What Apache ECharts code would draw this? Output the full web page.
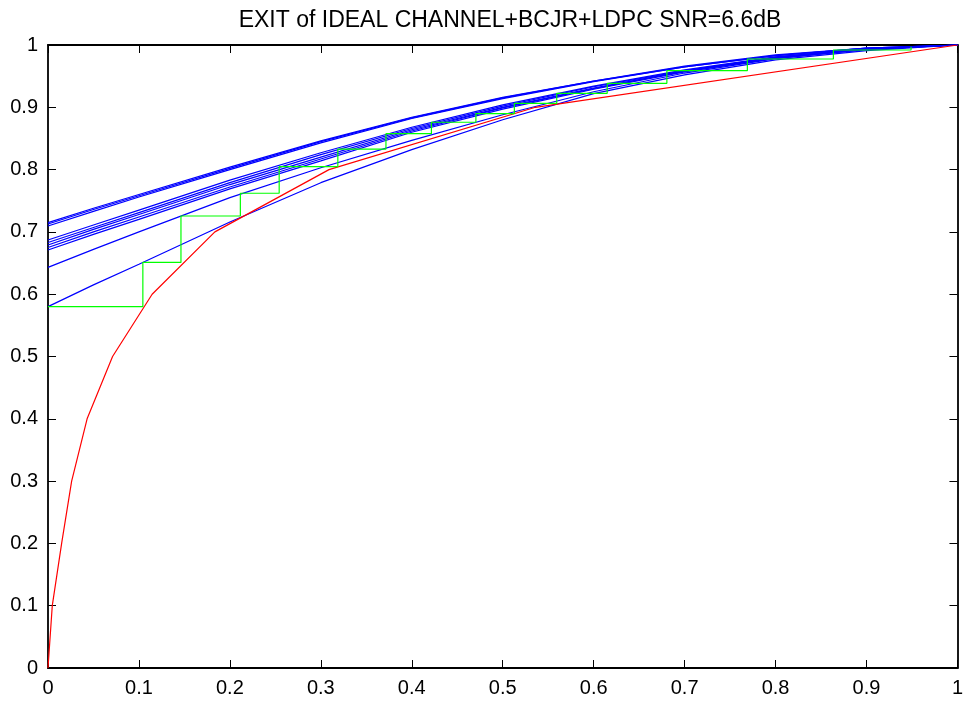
<!DOCTYPE html>
<html>
<head>
<meta charset="utf-8">
<script src="https://cdn.jsdelivr.net/npm/echarts@6/dist/echarts.min.js"></script>
<style>
html,body{margin:0;padding:0;background:#fff;}
#chart{width:966px;height:702px;}
</style>
</head>
<body>
<div id="chart"></div>
<script>
var titleText = 'EXIT of IDEAL CHANNEL+BCJR+LDPC SNR=6.6dB';
var axisTicks = [0, 0.1, 0.2, 0.3, 0.4, 0.5, 0.6, 0.7, 0.8, 0.9, 1];

// Blue: variable-node / BCJR curves, sampled at these x values
var blueX = [0, 0.05, 0.1, 0.2, 0.3, 0.4, 0.5, 0.6, 0.7, 0.8, 0.9, 1];
var blue1 = [0.580, 0.615, 0.648, 0.716, 0.779, 0.832, 0.880, 0.922, 0.952, 0.976, 0.991, 1];
var blue2 = [0.643, 0.672, 0.700, 0.755, 0.803, 0.847, 0.888, 0.925, 0.955, 0.978, 0.993, 1];
var blue3 = [0.671, 0.696, 0.720, 0.769, 0.814, 0.860, 0.897, 0.929, 0.957, 0.979, 0.993, 1];
var blue4 = [0.675, 0.700, 0.724, 0.772, 0.817, 0.862, 0.899, 0.930, 0.958, 0.979, 0.993, 1];
var blue5 = [0.679, 0.704, 0.728, 0.776, 0.820, 0.864, 0.900, 0.931, 0.958, 0.980, 0.994, 1];
var blue6 = [0.683, 0.707, 0.731, 0.779, 0.824, 0.866, 0.902, 0.933, 0.959, 0.980, 0.994, 1];
var blue7 = [0.687, 0.711, 0.735, 0.783, 0.827, 0.868, 0.904, 0.934, 0.960, 0.981, 0.994, 1];
var blue8 = [0.7095, 0.733, 0.756, 0.800, 0.843, 0.882, 0.914, 0.941, 0.965, 0.983, 0.995, 1];
var blue9 = [0.7127, 0.736, 0.758, 0.802, 0.845, 0.883, 0.915, 0.942, 0.965, 0.983, 0.995, 1];
var blue10 = [0.7148, 0.738, 0.760, 0.804, 0.846, 0.884, 0.916, 0.942, 0.966, 0.984, 0.995, 1];
var blueCurves = [blue1, blue2, blue3, blue4, blue5, blue6, blue7, blue8, blue9, blue10];

// Red: check-node curve
var redX = [0, 0.0047, 0.015, 0.026, 0.043, 0.071, 0.1145, 0.1835, 0.309, 0.536, 1];
var redY = [0, 0.1, 0.2, 0.3, 0.4, 0.5, 0.6, 0.7, 0.8, 0.9, 1];

// Green: decoding trajectory (staircase corners)
var greenX = [0, 0.1043, 0.1043, 0.1462, 0.1462, 0.2115, 0.2115, 0.2542, 0.2542, 0.3187, 0.3187, 0.3716, 0.3716, 0.4216, 0.4216, 0.4705, 0.4705, 0.5128, 0.5128, 0.5594, 0.5594, 0.6149, 0.6149, 0.6805, 0.6805, 0.769, 0.769, 0.8636, 0.8636, 0.949, 0.949];
var greenY = [0.58, 0.58, 0.651, 0.651, 0.7255, 0.7255, 0.762, 0.762, 0.8047, 0.8047, 0.833, 0.833, 0.8577, 0.8577, 0.876, 0.876, 0.890, 0.890, 0.9064, 0.9064, 0.9224, 0.9224, 0.9385, 0.9385, 0.9588, 0.9588, 0.9775, 0.9775, 0.992, 0.992, 0.997];

function pairs(xs, ys) {
  var out = [];
  for (var i = 0; i < xs.length; i++) out.push([xs[i], ys[i]]);
  return out;
}

var series = [];
blueCurves.forEach(function (c) {
  series.push({
    type: 'line', data: pairs(blueX, c), showSymbol: false,
    lineStyle: { color: '#0000ff', width: 1.2 }, silent: true
  });
});
series.push({
  type: 'line', data: pairs(redX, redY), showSymbol: false,
  lineStyle: { color: '#ff0000', width: 1.2 }, silent: true
});
series.push({
  type: 'line', data: pairs(greenX, greenY), showSymbol: false,
  lineStyle: { color: '#00ff00', width: 1.2 }, silent: true
});

var font = 'Liberation Sans, Arial, sans-serif';
function axisCommon(show) {
  return {
    type: 'value', min: 0, max: 1, interval: 0.1,
    axisLine: { show: true, onZero: false, lineStyle: { color: '#000', width: 1.8 } },
    axisTick: { show: true, inside: true, length: 8, lineStyle: { color: '#000', width: 1 } },
    axisLabel: { show: show, color: '#000', fontSize: 20, fontFamily: font, margin: 10,
      formatter: function (v) { var r = Math.round(v * 10) / 10; return String(r); } },
    splitLine: { show: false }
  };
}

var chart = echarts.init(document.getElementById('chart'), null, { renderer: 'canvas' });
var xb = axisCommon(true); xb.position = 'bottom';
var xt = axisCommon(false); xt.position = 'top';
var yl = axisCommon(true); yl.position = 'left';
var yr = axisCommon(false); yr.position = 'right';
chart.setOption({
  animation: false,
  backgroundColor: '#fff',
  title: {
    text: titleText, left: 505, top: 4, textAlign: 'center',
    textStyle: { fontFamily: font, fontSize: 23, fontWeight: 'normal', color: '#000' }
  },
  grid: { left: 48, right: 4, top: 45, bottom: 34, containLabel: false },
  xAxis: [xb, xt],
  yAxis: [yl, yr],
  series: series
});
</script>
</body>
</html>
